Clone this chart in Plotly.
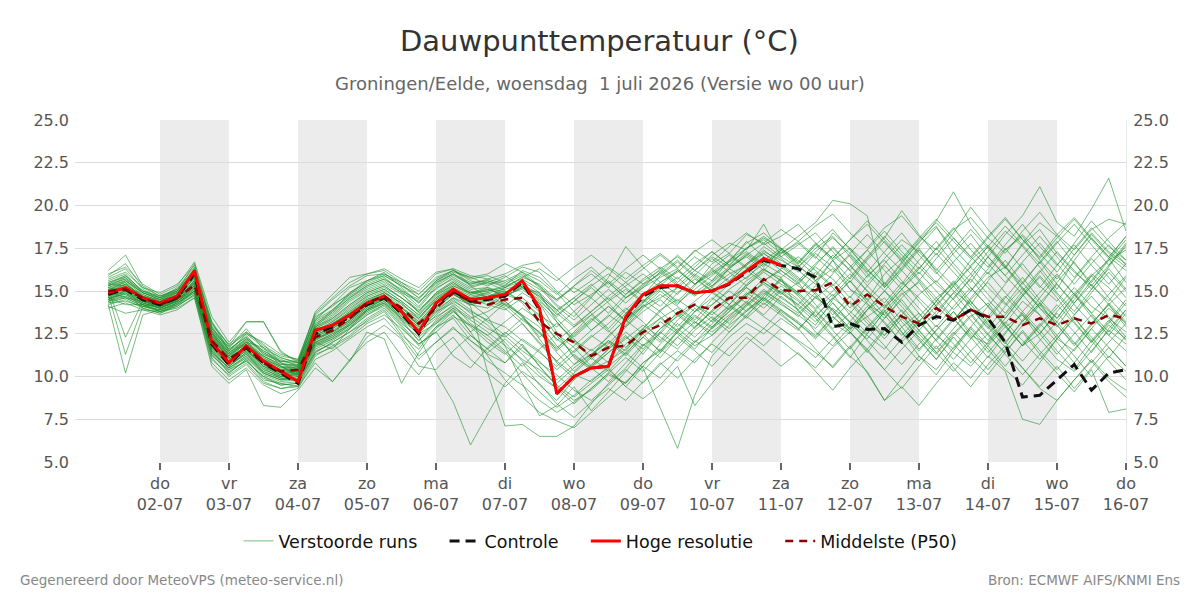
import plotly.graph_objects as go
import pandas as pd

# ---------------- data ----------------
start_time = "2026-07-01 06:00"
n_steps = 60  # 6-hourly steps

tick_dates = ["2026-07-02", "2026-07-03", "2026-07-04", "2026-07-05", "2026-07-06",
              "2026-07-07", "2026-07-08", "2026-07-09", "2026-07-10", "2026-07-11",
              "2026-07-12", "2026-07-13", "2026-07-14", "2026-07-15", "2026-07-16"]
tick_days = ["do", "vr", "za", "zo", "ma", "di", "wo", "do", "vr", "za", "zo", "ma", "di", "wo", "do"]
tick_labels = ["02-07", "03-07", "04-07", "05-07", "06-07", "07-07", "08-07", "09-07",
               "10-07", "11-07", "12-07", "13-07", "14-07", "15-07", "16-07"]
shaded_days = [("2026-07-02", "2026-07-03"), ("2026-07-04", "2026-07-05"), ("2026-07-06", "2026-07-07"),
               ("2026-07-08", "2026-07-09"), ("2026-07-10", "2026-07-11"), ("2026-07-12", "2026-07-13"),
               ("2026-07-14", "2026-07-15")]
y_ticks = [5.0, 7.5, 10.0, 12.5, 15.0, 17.5, 20.0, 22.5, 25.0]

hires = [14.9, 15.2, 14.6, 14.3, 14.7, 16.2, 12.0, 10.8, 11.8, 10.9, 10.3, 9.7, 12.7, 13.0, 13.6, 14.3,
         14.7, 13.8, 12.6, 14.3, 15.1, 14.5, 14.6, 14.8, 15.6, 14.0, 9.0, 10.0, 10.5, 10.6, 13.5, 14.8,
         15.3, 15.3, 14.9, 15.0, 15.45, 16.2, 16.9, 16.5]

control = [14.8, 15.1, 14.5, 14.2, 14.6, 16.0, 11.9, 10.7, 11.7, 10.8, 10.2, 9.6, 12.5, 12.9, 13.5, 14.2,
           14.6, 13.7, 12.5, 14.2, 15.0, 14.4, 14.5, 14.7, 15.5, 13.9, 9.0, 10.0, 10.5, 10.6, 13.4, 14.7,
           15.2, 15.3, 14.9, 15.0, 15.4, 16.1, 16.8, 16.5, 16.3, 15.8, 12.9, 13.1, 12.75, 12.8, 12.0, 13.0,
           13.5, 13.3, 13.9, 13.4, 12.0, 8.8, 8.9, 9.8, 10.7, 9.2, 10.2, 10.4]

p50 = [15.0, 15.1, 14.6, 14.2, 14.6, 15.35, 12.1, 11.0, 11.7, 10.8, 10.3, 10.4, 12.3, 12.7, 13.4, 14.3,
       14.7, 14.0, 13.1, 14.0, 14.9, 14.4, 14.2, 14.5, 14.6, 13.2, 12.5, 12.0, 11.2, 11.7, 11.8, 12.6,
       13.0, 13.7, 14.2, 13.9, 14.6, 14.6, 15.7, 15.05, 15.0, 15.05, 15.5, 14.1, 14.8, 14.1, 13.5, 13.1,
       14.0, 13.3, 13.9, 13.5, 13.5, 13.0, 13.4, 13.0, 13.4, 13.1, 13.6, 13.4]

run01 = [15.5,15.8,14.8,14.4,14.9,15.9,12.6,11.2,12.1,11.0,10.6,10.2,12.8,13.3,14.1,14.8,15.2, 14.6,13.9,14.8,15.3,14.8,15.0,15.2,15.6,14.9,13.2,12.1,11.5,12.3,13.4,14.1,14.6,15.2,14.8,15.3,16.0,16.5,17.3,16.8, 16.2,15.4,16.8,15.1,14.2,13.6,14.8,15.5,14.1,13.2,14.6,15.8,16.4,15.1,14.0,13.2,14.5,15.9,16.8,17.4]
run02 = [14.6,15.0,14.3,14.0,14.4,15.1,11.8,10.6,11.4,10.2,9.8,10.0,12.0,12.5,13.0,13.9,14.4, 13.5,12.8,13.9,14.6,14.2,14.0,14.8,15.1,14.3,12.6,11.1,10.4,10.9,11.6,12.8,13.9,14.5,13.8,14.2,15.1,15.8,16.6,16.0, 15.3,14.6,13.9,12.8,13.5,14.2,12.9,11.6,12.7,13.8,12.4,11.9,13.1,14.4,13.6,12.2,11.5,12.8,14.0,13.1]
run03 = [16.2,17.1,15.3,14.7,15.0,16.6,13.2,11.5,12.4,11.3,10.9,10.7,13.4,14.2,14.8,15.6,16.1, 15.2,14.3,15.5,16.0,15.4,15.6,15.3,16.2,15.8,14.9,13.8,12.7,13.5,14.6,15.2,15.8,16.3,15.4,16.1,16.8,17.5,18.0,17.2, 17.8,16.9,18.4,17.5,16.2,15.3,16.6,17.9,18.8,17.1,16.0,17.3,18.5,17.6,16.4,15.1,16.8,18.1,17.0,16.2]
run04 = [14.2,10.2,13.6,13.9,14.3,14.9,11.5,10.2,11.0,9.9,9.5,9.6,11.4,12.0,12.6,13.2,13.8, 12.4,11.6,12.9,13.4,12.1,11.3,10.8,11.9,10.6,9.4,8.6,9.2,10.1,9.6,10.8,11.5,12.6,11.8,12.4,13.3,14.1,14.9,14.2, 13.6,12.8,14.0,13.2,12.4,11.6,12.9,13.7,12.5,11.4,10.6,11.8,12.9,13.6,12.2,11.0,10.3,11.5,12.7,11.9]
run05 = [14.8,11.3,14.1,14.3,14.6,15.5,12.3,11.1,11.8,11.2,10.6,10.1,12.6,13.1,13.7,14.4,14.9, 14.1,13.2,14.3,15.0,14.6,14.9,14.4,13.5,12.2,10.8,9.9,10.6,11.4,12.3,11.6,12.8,13.5,14.2,13.6,14.5,15.3,16.1,15.4, 14.8,15.6,16.3,15.1,14.5,16.0,16.9,15.7,14.6,15.4,16.8,17.7,16.5,15.2,14.1,15.5,16.7,15.3,14.4,15.8]
run06 = [15.1,12.3,14.4,14.1,14.8,15.7,12.9,11.7,12.8,11.6,11.1,10.8,13.0,13.6,14.5,15.1,15.5, 14.9,14.4,15.1,15.8,15.2,15.5,15.0,14.3,13.1,11.8,10.7,11.3,12.1,11.5,12.7,13.4,14.0,13.2,12.6,13.4,14.2,15.0,14.4, 13.7,14.6,15.4,14.3,13.1,12.4,13.6,14.8,15.6,14.5,13.3,12.1,13.4,14.7,15.8,14.6,13.2,12.0,13.1,14.3]
run07 = [14.9,15.4,14.7,14.3,14.5,15.2,11.9,10.9,11.5,10.7,10.1,10.3,12.2,12.6,13.3,14.1,14.6, 13.6,12.4,10.2,8.5,6.0,7.8,9.6,10.8,9.5,8.6,9.8,10.7,11.6,12.4,11.3,12.6,13.8,13.1,14.2,15.0,14.3,15.6,16.2, 15.5,14.2,13.1,12.5,13.9,14.6,13.2,12.1,11.0,12.4,13.5,14.3,13.0,11.8,12.9,14.0,15.2,14.1,13.4,12.6]
run08 = [15.3,15.6,14.9,14.5,14.7,15.8,12.4,11.3,11.9,11.1,10.5,10.6,12.5,13.0,13.8,14.6,15.0, 14.2,13.5,14.4,14.9,14.1,10.2,7.1,7.2,6.5,6.5,7.1,8.4,9.6,10.5,11.8,12.5,13.6,12.8,13.9,14.6,15.2,14.5,15.8, 13.8,13.0,14.5,15.6,14.3,13.1,12.0,13.2,14.4,15.5,14.2,13.0,11.9,13.3,14.6,15.9,14.8,13.5,12.4,13.7]
run09 = [14.5,14.7,14.2,13.8,14.1,14.8,11.2,10.4,10.9,10.0,9.6,9.7,11.6,12.1,12.8,13.6,14.1, 13.0,11.9,12.6,13.5,13.0,12.2,11.4,10.2,9.1,8.2,8.9,9.8,10.5,9.4,10.6,11.9,12.8,12.0,13.1,14.0,14.7,15.5,14.9, 14.2,13.4,12.3,11.1,12.5,13.8,12.6,11.2,10.1,11.5,12.8,11.6,10.4,9.5,10.8,12.2,13.5,12.1,10.9,9.8]
run10 = [15.8,16.3,15.1,14.6,15.2,16.4,13.0,11.9,12.6,11.8,11.2,11.0,13.6,14.5,15.3,15.9,16.0, 15.5,14.8,15.7,16.2,15.6,15.3,15.8,16.4,16.1,15.0,14.2,14.8,15.5,14.6,15.4,16.0,16.8,15.9,15.2,16.3,17.1,17.8,17.0, 16.4,17.5,18.2,17.0,15.8,16.9,18.0,17.3,16.2,17.4,18.6,17.5,16.3,17.8,19.0,18.2,17.1,18.4,17.3,16.6]
run11 = [14.7,15.2,14.5,14.1,14.6,15.4,12.2,11.0,11.8,10.9,10.4,10.5,12.4,12.9,13.5,14.3,14.8, 14.0,13.4,14.6,15.2,14.7,14.9,15.1,15.4,14.6,13.7,12.9,13.6,14.4,15.1,14.3,15.5,16.2,15.4,16.0,16.7,17.3,16.6,17.4, 18.2,19.0,20.3,20.1,19.4,15.2,16.3,17.5,16.1,15.0,14.2,15.6,16.8,15.5,14.3,13.4,14.8,16.0,15.2,14.1]
run12 = [15.2,15.5,14.6,14.3,14.8,15.9,12.7,11.4,12.2,11.4,10.8,10.4,12.9,13.4,14.2,14.9,15.3, 14.6,13.8,14.9,15.6,15.0,14.6,14.2,13.6,12.9,11.5,12.4,13.3,14.1,13.2,14.3,15.1,15.8,14.9,15.6,16.4,17.0,16.2,15.8, 16.5,15.6,16.8,17.5,16.6,15.4,16.7,17.8,19.1,20.8,18.9,17.6,16.4,17.7,18.6,17.2,16.1,15.3,16.5,17.6]
run13 = [14.4,14.9,14.0,13.7,14.2,15.0,11.4,10.5,11.2,10.3,9.9,9.9,11.9,12.3,13.0,13.8,14.3, 13.3,12.5,13.6,14.4,13.8,13.3,12.9,12.1,11.4,10.6,11.5,12.4,11.7,12.9,13.8,14.5,13.6,14.4,15.2,14.5,15.6,16.3,15.6, 14.9,16.1,15.2,14.0,15.3,16.5,15.4,16.8,17.9,16.6,15.5,17.0,18.3,19.4,21.1,19.0,18.2,19.8,21.6,18.5]
run14 = [14.3,14.6,14.1,13.9,14.2,14.7,11.0,10.1,10.8,9.7,9.3,9.4,11.2,11.8,12.4,13.3,13.9, 12.6,11.2,12.0,12.9,11.8,10.9,10.2,9.5,8.6,7.9,8.5,9.3,10.2,9.6,10.8,11.6,10.9,12.0,12.8,13.6,14.3,13.5,12.8, 12.1,11.4,10.6,11.8,10.2,8.6,9.4,8.3,9.6,10.8,9.9,11.2,10.3,7.5,7.2,8.6,9.8,10.9,9.7,8.8]
run15 = [15.0,15.3,14.5,14.2,14.5,15.3,12.0,10.8,11.6,10.6,10.0,10.2,12.1,12.8,13.6,14.4,14.8, 13.9,13.0,14.2,15.1,14.5,14.2,13.9,14.6,13.8,12.4,11.2,10.5,11.4,12.2,13.0,12.3,11.6,12.7,13.5,12.8,13.9,14.6,13.8, 13.1,12.3,13.5,12.6,11.4,12.7,13.6,12.2,11.0,12.3,11.1,10.1,11.4,12.6,11.3,10.2,9.1,10.4,7.9,8.1]
run16 = [14.8,15.0,14.4,14.0,14.4,15.2,11.7,10.7,11.3,10.4,10.0,10.1,12.0,12.4,13.1,13.9,14.3, 13.4,12.7,13.8,14.3,13.5,12.8,12.3,13.1,12.0,10.9,10.1,9.7,10.6,11.4,10.5,8.2,5.8,8.9,11.2,12.3,13.1,12.5,13.4, 12.7,13.9,14.8,13.6,12.5,13.8,14.9,13.7,12.4,11.6,12.9,14.1,13.0,11.8,12.5,13.7,12.6,11.4,12.8,13.9]
run17 = [15.4,15.9,15.0,14.6,15.1,16.0,12.8,11.6,12.3,11.5,10.9,10.9,13.2,13.8,14.6,15.3,15.7, 15.0,14.1,15.3,15.9,15.4,15.7,15.4,15.9,15.3,14.2,13.5,14.6,15.8,17.6,16.4,15.5,16.1,17.0,16.3,15.6,16.5,17.6,16.9, 16.1,17.2,16.4,15.5,16.8,17.9,16.7,15.6,16.9,18.1,17.0,16.0,17.4,18.2,16.8,15.7,17.1,18.3,17.2,16.4]
run18 = [15.6,16.0,14.9,14.5,15.0,16.1,12.5,11.4,12.0,11.2,10.7,10.7,12.9,13.5,14.4,15.0,15.4, 14.8,14.0,15.2,15.7,15.1,15.2,14.6,15.3,14.7,13.6,14.4,15.2,14.3,13.2,14.1,15.0,14.2,15.3,16.6,17.2,16.4,15.6,16.3, 17.0,16.2,15.3,16.4,17.4,16.2,15.1,16.3,17.5,16.4,15.2,14.1,15.4,16.6,15.3,14.4,15.7,16.9,15.8,14.6]
run19 = [14.6,14.8,14.2,13.9,14.3,15.0,11.6,10.4,11.1,10.1,9.7,9.8,11.8,12.2,12.9,13.7,14.2, 13.2,12.1,13.3,14.0,13.3,12.6,11.8,11.0,10.4,9.6,10.5,11.3,12.0,11.2,12.3,13.2,12.5,11.6,12.9,13.8,14.8,15.4,14.6, 13.9,12.6,11.8,12.9,14.1,13.2,12.0,10.9,12.2,13.4,12.3,11.1,12.5,13.8,12.7,11.5,10.4,11.8,13.0,12.2]
run20 = [15.3,15.7,14.7,14.4,14.9,15.8,12.4,11.2,12.0,11.0,10.5,10.5,12.7,13.2,13.9,14.7,15.1, 14.4,13.6,14.7,15.4,14.9,15.0,15.3,15.7,15.1,14.5,15.2,14.6,13.7,14.8,15.6,16.2,15.4,14.7,15.5,16.3,15.7,16.8,17.5, 16.8,15.9,17.1,16.2,15.0,14.1,15.3,16.4,15.4,14.5,15.8,17.0,15.9,14.8,16.1,17.3,16.2,15.1,16.4,17.7]
run21 = [14.9,15.1,14.4,14.2,14.6,15.5,12.2,11.1,11.7,10.9,10.3,10.4,12.3,12.8,13.4,14.2,14.6, 13.8,13.1,14.1,14.8,14.2,14.4,14.0,13.1,11.9,10.9,11.8,12.7,13.6,12.9,14.0,14.8,14.1,13.3,14.5,15.4,16.2,15.5,14.8, 15.5,16.4,15.7,14.6,15.9,16.8,15.6,14.4,13.3,14.6,15.7,14.5,13.4,14.7,15.9,14.8,13.6,14.9,16.1,15.0]
run22 = [15.1,15.4,14.6,14.2,14.7,15.6,12.3,11.0,11.6,10.8,10.2,10.3,12.5,13.0,13.7,14.5,14.9, 14.3,13.3,14.5,15.2,14.3,13.5,11.8,9.6,7.7,8.3,9.4,8.0,9.1,10.3,11.5,12.6,11.8,12.9,13.8,13.1,14.2,15.1,14.3, 13.5,14.7,13.8,12.7,13.9,15.0,14.1,12.9,14.2,15.3,14.0,12.8,14.1,15.2,14.0,12.9,14.3,15.4,14.2,13.1]
run23 = [14.7,14.9,14.3,14.0,14.5,15.3,11.9,10.8,11.5,10.5,10.1,10.1,12.1,12.6,13.2,14.0,14.5, 13.7,12.9,13.5,14.1,13.4,13.8,14.4,13.6,12.3,13.1,12.2,11.0,11.9,13.0,14.2,13.5,12.6,13.8,14.9,14.2,13.5,14.7,15.6, 14.8,13.9,12.8,13.7,14.8,13.6,12.4,13.5,14.6,13.4,12.2,13.5,14.7,13.6,12.5,13.8,14.9,13.7,12.6,13.9]
run24 = [14.4,14.7,14.2,13.8,14.2,14.9,11.3,10.3,10.9,10.0,9.5,9.6,11.5,11.9,10.9,12.6,12.2, 9.6,11.4,12.8,13.6,12.4,11.6,12.5,13.4,12.6,11.4,10.3,11.2,12.1,11.3,12.5,13.4,12.7,13.8,14.6,13.9,14.8,15.7,14.9, 14.1,13.2,14.3,13.1,12.2,13.4,14.5,13.2,12.1,13.3,14.4,13.1,12.0,13.2,14.3,13.0,11.9,13.1,14.2,12.9]
run25 = [15.9,16.6,15.2,14.7,15.1,16.3,13.1,11.8,12.5,11.7,11.1,10.8,13.5,14.1,14.9,15.5,15.9, 15.3,14.6,15.6,16.1,15.8,15.4,15.6,16.1,15.6,14.8,15.7,16.4,15.5,14.6,15.3,16.1,17.1,16.2,15.6,16.8,17.8,18.4,17.5, 16.6,17.7,16.8,15.7,16.9,18.1,19.7,18.3,17.1,18.4,19.9,18.6,17.4,18.3,17.2,16.1,17.5,18.7,17.6,16.8]
run26 = [14.5,15.0,14.2,14.0,14.4,15.1,11.6,10.6,11.3,10.3,9.9,10.0,11.9,12.4,13.1,13.9,14.4, 13.5,12.6,13.4,14.2,13.1,12.4,13.2,14.0,13.3,12.2,11.4,12.3,13.1,14.0,13.2,12.1,13.3,14.2,13.4,12.6,13.6,14.5,13.7, 12.8,11.6,10.5,11.7,12.9,11.8,10.7,11.9,13.0,11.9,10.8,12.0,13.2,12.1,11.0,12.2,13.4,12.3,11.1,12.4]
run27 = [15.4,15.3,14.8,14.4,14.8,15.7,12.6,11.5,12.2,11.3,10.8,10.6,13.1,13.7,14.6,15.2,15.6, 14.9,13.7,14.8,15.5,14.8,15.1,14.7,15.2,14.9,13.9,14.6,15.4,14.5,15.3,16.0,15.2,14.3,15.1,15.9,16.7,17.9,17.0,16.2, 15.4,16.5,17.6,16.5,15.3,14.3,15.5,14.6,13.6,14.9,16.0,14.8,13.7,15.0,16.2,14.9,13.8,15.1,16.3,15.1]
run28 = [14.2,14.5,14.0,13.7,14.1,14.8,11.1,10.0,10.7,9.6,9.3,9.5,11.3,11.7,12.3,13.1,13.6, 12.8,11.9,12.6,11.2,10.5,11.7,12.6,11.8,10.6,9.5,8.8,9.6,10.4,9.4,8.7,9.5,10.6,8.3,9.6,10.8,11.9,12.8,12.1, 11.3,10.5,11.7,12.6,11.5,10.4,11.6,12.7,11.4,10.3,11.5,12.5,11.3,10.1,11.3,12.4,11.2,10.0,11.2,10.3]
run29 = [15.0,15.2,14.5,14.1,14.5,15.4,12.1,11.0,11.7,10.9,10.3,10.3,12.3,12.8,13.5,14.2,14.6, 13.9,13.0,14.0,14.8,14.3,14.7,14.9,15.3,14.7,13.9,13.0,13.8,14.7,15.5,14.7,15.9,16.7,15.8,15.0,15.8,16.6,17.4,16.6, 15.8,14.9,16.0,17.1,16.0,15.0,16.2,15.1,14.1,15.3,16.4,15.2,14.2,15.5,16.7,15.4,14.3,15.6,16.9,15.5]
run30 = [14.8,15.1,14.4,14.1,14.6,15.5,12.0,10.9,11.6,10.6,10.2,10.2,12.2,12.7,13.3,14.1,14.6, 13.8,13.0,13.8,14.6,13.9,13.2,12.4,11.5,10.8,10.1,9.2,8.6,9.5,10.4,9.6,10.7,11.5,10.8,12.0,13.0,13.8,14.6,13.9, 13.1,12.2,13.3,14.4,13.3,12.2,13.4,12.3,11.3,12.5,13.6,12.4,11.4,12.7,11.5,10.4,11.6,12.8,11.7,10.6]
run31 = [15.2,15.6,14.7,14.3,14.8,15.8,12.5,11.3,12.0,11.1,10.6,10.5,12.6,13.2,14.0,14.7,15.1, 14.4,13.6,14.6,15.3,14.9,15.1,14.8,14.4,13.5,12.1,12.9,13.8,14.6,13.7,14.8,15.5,14.8,15.9,16.9,16.1,15.3,16.2,17.2, 17.9,17.0,16.1,17.2,18.3,17.2,16.2,17.4,16.3,15.3,16.5,17.6,16.4,15.4,16.7,17.9,16.6,15.5,16.8,18.0]
run32 = [14.6,14.8,14.3,14.0,14.4,15.2,11.8,10.7,11.4,10.4,10.0,10.1,12.0,12.5,13.2,14.0,14.5, 13.6,12.9,14.0,14.8,14.2,14.5,14.1,14.9,14.3,13.2,12.0,11.2,12.4,13.3,12.5,11.4,12.6,13.5,12.8,14.0,14.9,14.2,15.1, 14.4,13.5,14.6,13.8,12.9,14.0,15.1,14.0,12.9,14.1,15.2,14.1,12.9,11.8,13.0,14.2,13.1,12.0,13.2,14.5]
run33 = [15.1,15.5,14.6,14.3,14.7,15.6,12.3,11.2,11.9,11.0,10.4,10.4,12.5,13.1,13.8,14.5,14.9, 14.3,13.4,14.5,15.1,14.6,14.8,14.2,13.3,12.6,11.7,12.5,13.4,12.6,13.7,14.5,13.8,14.9,15.7,15.0,14.2,15.4,16.3,15.6, 14.7,13.6,12.4,11.2,10.3,8.6,9.9,11.2,10.4,11.7,12.9,11.8,10.6,11.9,13.1,12.0,10.8,12.1,13.3,12.1]
run34 = [14.9,15.2,14.5,14.2,14.6,15.4,12.0,10.9,11.6,10.7,10.2,10.3,12.4,12.9,13.6,14.3,14.7, 14.0,13.2,14.3,15.0,14.5,14.7,15.0,14.4,13.6,12.9,13.8,14.7,15.6,14.8,15.7,16.4,15.7,16.6,17.3,16.5,17.5,18.2,17.4, 16.5,15.6,14.7,15.8,17.0,18.2,17.1,16.0,17.2,16.1,15.0,16.3,17.5,16.3,15.2,16.5,17.7,16.5,15.4,16.6]
run35 = [14.3,14.4,14.1,13.8,14.3,15.0,11.4,10.5,11.1,10.2,9.8,9.8,11.7,12.2,12.8,13.6,14.2, 13.1,12.3,13.2,13.9,12.6,11.2,9.8,8.8,7.9,7.4,7.0,7.9,8.8,9.7,10.6,9.9,11.1,12.1,11.4,12.6,13.5,12.8,13.9, 13.2,12.4,13.5,12.6,11.6,12.8,13.9,12.7,11.6,12.8,14.0,12.9,11.7,13.0,14.2,13.0,11.8,13.0,14.3,13.2]
run36 = [15.5,15.9,15.0,14.6,15.0,16.0,12.7,11.6,12.3,11.4,10.9,10.8,13.3,13.9,14.7,15.3,15.7, 15.1,14.3,15.4,16.0,15.5,15.6,15.2,15.8,15.4,14.5,15.3,16.0,15.2,16.1,15.4,16.3,17.0,16.2,17.1,17.8,17.4,18.9,17.0, 17.7,18.4,17.3,16.2,17.4,18.5,17.3,16.3,17.5,18.7,17.4,16.4,17.7,18.9,17.6,16.5,17.8,19.1,17.9,16.8]
run37 = [14.7,15.0,14.4,14.1,14.5,15.3,11.9,10.8,11.5,10.6,10.1,10.2,12.2,12.6,13.3,14.1,14.5, 13.7,12.7,13.7,14.5,13.7,13.0,12.0,10.9,10.0,9.3,10.2,11.1,10.3,11.4,12.3,11.5,12.7,13.6,12.9,13.8,14.7,14.0,15.0, 14.2,15.3,14.3,13.2,14.4,15.5,14.3,13.2,14.4,15.6,14.4,13.3,14.6,15.8,14.5,13.4,14.7,15.9,14.6,13.5]
run38 = [15.0,15.4,14.6,14.2,14.6,15.5,12.2,11.1,11.8,10.8,10.3,10.4,12.4,12.9,13.6,14.3,14.7, 14.0,13.1,14.2,14.9,14.3,14.5,14.7,15.2,14.5,13.4,12.3,13.2,14.1,13.3,14.4,15.2,14.4,15.4,16.2,15.5,16.6,17.2,16.5, 15.7,14.8,13.6,14.7,13.5,12.4,13.6,12.5,11.4,12.6,11.5,10.4,11.6,10.5,9.4,10.6,9.3,10.5,11.7,10.6]
run39 = [15.3,15.8,14.9,14.5,14.9,15.9,12.6,11.4,12.1,11.2,10.7,10.6,12.8,13.4,14.2,14.9,15.3, 14.6,13.8,14.9,15.5,14.9,15.2,14.9,15.4,14.8,13.8,14.6,13.7,12.8,13.9,14.8,14.1,15.2,16.0,15.3,16.3,17.1,16.4,17.4, 16.6,17.7,18.6,17.4,16.3,15.2,16.4,17.6,18.7,17.5,16.4,17.6,18.8,17.7,16.6,17.8,18.9,17.7,16.5,17.8]
run40 = [14.4,14.6,14.1,13.9,14.3,15.0,11.5,10.5,11.2,10.2,9.8,9.9,11.8,12.3,13.0,13.8,14.3, 13.4,12.5,13.1,13.8,12.9,12.0,11.3,12.2,11.5,10.4,11.3,10.5,9.7,10.8,11.9,11.1,12.3,13.2,12.4,13.5,14.4,13.6,14.7, 13.9,14.9,13.9,12.8,13.9,15.0,13.8,12.7,13.8,14.9,13.7,12.5,13.6,14.8,13.6,12.4,13.6,14.7,13.5,12.3]
run41 = [16.0,16.4,15.4,14.8,15.3,16.7,13.5,12.0,13.2,13.2,11.5,10.8,13.8,14.8,15.8,16.0,16.2, 15.5,15.0,16.0,16.3,15.9,15.7,16.0,16.5,16.7,15.8,14.9,15.6,16.4,15.7,16.5,17.2,16.4,17.3,18.0,17.2,18.3,17.8,18.6, 17.9,18.8,19.5,18.4,17.5,18.7,19.4,18.2,17.4,18.6,19.3,18.1,17.2,18.5,19.6,18.3,17.4,18.6,19.2,18.9]
run42 = [14.0,14.3,13.9,13.6,13.9,14.6,10.6,9.6,10.4,8.3,8.2,9.2,10.5,9.7,11.0,12.0,12.6, 11.2,10.1,11.5,12.3,11.0,10.2,9.4,10.3,9.6,8.4,7.6,8.5,9.3,8.6,9.7,10.8,9.9,11.0,11.9,11.2,12.3,11.5,10.6, 11.4,10.3,9.2,10.5,11.6,10.4,9.3,10.6,11.8,10.5,9.4,10.7,11.8,10.5,9.3,8.6,9.8,11.0,9.9,9.2]
run43 = [15.2,15.0,14.7,14.5,15.0,16.0,13.2,11.8,13.2,13.2,11.4,10.9,13.3,14.2,15.2,15.6,15.9, 15.3,14.8,15.8,16.2,15.7,15.9,15.5,16.0,15.2,14.1,13.3,14.2,15.1,14.3,15.2,16.1,15.3,16.2,17.0,16.4,17.2,16.5,17.3, 16.4,17.3,18.1,17.2,16.1,17.3,18.4,17.1,16.0,17.2,18.3,17.0,15.9,17.1,18.2,17.0,15.8,17.0,18.1,19.0]
run44 = [14.6,14.2,14.2,14.1,14.4,15.0,11.3,10.2,11.0,9.8,9.6,9.4,10.8,9.7,10.9,12.3,13.0, 12.2,10.6,10.4,11.5,12.4,11.6,10.8,11.7,10.9,9.8,10.7,11.6,10.8,11.9,12.8,12.0,13.1,12.3,13.3,14.1,13.4,14.3,13.6, 12.8,13.8,12.7,11.6,12.8,13.9,12.6,11.5,12.7,13.8,12.6,11.4,12.6,13.7,12.5,11.3,12.5,13.6,12.4,11.5]
run45 = [15.7,16.1,15.2,14.9,15.4,16.5,12.9,11.5,12.5,12.0,11.3,11.0,13.7,14.6,15.5,16.0,16.3, 15.7,15.2,16.1,16.3,15.3,14.6,15.2,15.8,16.3,15.6,16.4,17.1,16.3,15.5,16.3,17.1,16.3,17.4,16.7,17.6,18.4,17.7,18.2, 18.9,17.8,16.9,18.0,19.1,18.0,16.9,18.1,19.2,18.1,17.0,18.2,19.3,18.0,16.9,18.1,19.2,18.0,16.9,18.2]
run46 = [14.1,13.7,13.9,13.8,14.0,14.6,10.8,9.8,10.5,9.5,9.0,9.3,11.0,11.5,12.2,12.9,13.4, 12.3,11.0,12.0,12.8,12.1,11.4,12.2,11.3,10.2,9.3,8.4,9.3,10.2,11.1,10.3,11.4,12.3,11.5,10.6,11.7,12.6,11.8,12.8, 12.0,11.1,12.2,13.2,12.1,11.0,12.2,13.3,12.1,11.0,12.2,13.3,12.0,10.9,12.1,13.2,12.0,10.8,12.0,13.1]
run47 = [15.0,15.6,14.9,14.6,14.9,16.3,12.8,11.7,12.6,11.9,10.8,10.2,12.9,13.8,14.9,15.6,16.0, 15.4,14.6,15.5,16.0,15.3,15.5,15.9,15.2,14.4,13.5,14.4,15.3,16.0,15.2,14.4,15.3,16.2,15.4,16.3,17.1,16.3,17.2,16.4, 15.6,16.6,17.5,16.5,15.5,16.6,17.7,16.6,15.5,16.7,17.8,16.6,15.5,16.7,17.8,16.6,15.4,16.6,17.7,16.5]
run48 = [14.5,14.9,14.3,14.0,14.4,15.3,11.7,10.6,11.4,10.5,9.9,9.8,11.4,12.0,12.6,13.4,14.0, 12.9,11.8,12.9,13.8,13.0,12.4,11.5,10.6,11.6,12.5,11.7,10.6,11.6,12.6,11.8,12.8,13.7,12.9,13.8,14.6,13.8,14.8,15.7, 14.9,14.0,15.0,16.0,15.0,14.0,15.1,16.1,15.0,13.9,15.0,16.1,14.9,13.8,14.9,16.0,14.8,13.7,14.8,15.9]
run49 = [15.4,15.7,15.0,14.7,15.1,16.2,12.5,11.3,12.2,11.5,11.0,10.6,13.0,13.9,14.8,15.4,15.8, 15.0,14.5,15.6,16.2,15.8,16.0,16.6,16.1,15.3,14.4,15.3,16.2,15.4,16.3,17.1,16.3,15.5,16.4,17.3,16.5,17.5,18.1,17.5, 16.7,17.8,16.9,18.0,18.9,17.8,16.8,18.0,19.0,17.9,16.9,18.1,19.2,18.0,17.0,18.3,19.3,18.1,17.0,18.2]
run50 = [14.9,14.6,14.4,14.1,14.5,15.6,12.4,11.1,12.0,11.7,10.6,10.0,12.0,11.6,12.8,13.9,14.6, 13.3,12.1,13.1,14.0,12.6,13.4,14.3,13.5,12.5,11.6,12.6,13.6,12.7,11.7,12.8,13.8,12.9,14.0,13.2,14.2,15.2,14.4,15.3, 14.5,13.5,14.6,15.6,14.5,13.4,14.6,15.6,14.4,13.3,14.5,15.5,14.3,13.2,14.3,15.4,14.2,13.1,14.2,15.2]

members = [run01, run02, run03, run04, run05, run06, run07, run08, run09, run10,
           run11, run12, run13, run14, run15, run16, run17, run18, run19, run20,
           run21, run22, run23, run24, run25, run26, run27, run28, run29, run30,
           run31, run32, run33, run34, run35, run36, run37, run38, run39, run40,
           run41, run42, run43, run44, run45, run46, run47, run48, run49, run50]

legend_names = ["Verstoorde runs", "Controle", "Hoge resolutie", "Middelste (P50)"]

# ---------------- figure ----------------
times = pd.date_range(start_time, periods=n_steps, freq="6h")
FONT = "DejaVu Sans"
PAD = "\u00a0" * 4

fig = go.Figure()

for i, m in enumerate(members):
    fig.add_trace(go.Scatter(
        x=times[:len(m)], y=m, mode="lines",
        line=dict(color="rgba(30,145,45,0.6)", width=1),
        name=legend_names[0] + PAD, legendgroup="ens", showlegend=(i == 0),
        hoverinfo="skip"))

fig.add_trace(go.Scatter(x=times[:len(control)], y=control, mode="lines",
                         line=dict(color="#111111", width=3, dash="10px,6px"),
                         name=legend_names[1] + PAD))
fig.add_trace(go.Scatter(x=times[:len(hires)], y=hires, mode="lines",
                         line=dict(color="#ff0000", width=3),
                         name=legend_names[2] + PAD))
fig.add_trace(go.Scatter(x=times[:len(p50)], y=p50, mode="lines",
                         line=dict(color="#8b0000", width=2.5, dash="8px,6px"),
                         name=legend_names[3]))
# invisible trace to carry the right-hand axis
fig.add_trace(go.Scatter(x=[times[0]], y=[p50[0]], mode="markers", marker=dict(opacity=0),
                         yaxis="y2", showlegend=False, hoverinfo="skip"))

shapes = []
for a, b in shaded_days:
    shapes.append(dict(type="rect", xref="x", yref="paper", x0=a, x1=b, y0=0, y1=1,
                       fillcolor="#ececec", line=dict(width=0), layer="below"))

ytext = [f"{v:.1f}" for v in y_ticks]
ticktext = [f"{d}<br>{l}" for d, l in zip(tick_days, tick_labels)]

fig.update_layout(
    width=1200, height=600,
    margin=dict(l=75, r=74, t=120, b=138),
    paper_bgcolor="white", plot_bgcolor="white",
    font=dict(family=FONT, color="#555555"),
    shapes=shapes,
    showlegend=True,
    legend=dict(orientation="h", x=0.5, xanchor="center", y=-0.231, yanchor="middle",
                font=dict(size=17.5, color="#111111"), bgcolor="rgba(0,0,0,0)"),
    xaxis=dict(type="date", range=["2026-06-30 18:26", "2026-07-16 00:00"],
               tickmode="array", tickvals=tick_dates, ticktext=ticktext,
               showgrid=False, zeroline=False, showline=False,
               ticks="outside", ticklen=7, tickcolor="#666666", tickwidth=2,
               tickfont=dict(size=16, color="#555555")),
    yaxis=dict(range=[5, 25], tickmode="array", tickvals=y_ticks, ticktext=ytext,
               showgrid=True, gridcolor="#dcdcdc", gridwidth=1, zeroline=False,
               showline=False, ticks="", ticklabelstandoff=5,
               tickfont=dict(size=16, color="#555555")),
    yaxis2=dict(range=[5, 25], overlaying="y", side="right", tickmode="array",
                tickvals=y_ticks, ticktext=ytext, showgrid=False, zeroline=False,
                showline=True, linecolor="#e6e6e6", ticks="", ticklabelstandoff=3,
                tickfont=dict(size=16, color="#555555")),
    annotations=[
        dict(text="Dauwpunttemperatuur (°C)", xref="paper", yref="paper", x=0.4995, y=1.231,
             xanchor="center", yanchor="middle", showarrow=False,
             font=dict(size=29, color="#333333")),
        dict(text="Groningen/Eelde, woensdag  1 juli 2026 (Versie wo 00 uur)", xref="paper",
             yref="paper", x=0.4995, y=1.108, xanchor="center", yanchor="middle",
             showarrow=False, font=dict(size=18, color="#666666")),
        dict(text="Gegenereerd door MeteoVPS (meteo-service.nl)", xref="paper", yref="paper",
             x=-0.0542, y=-0.345, xanchor="left", yanchor="middle", showarrow=False,
             font=dict(size=13.5, color="#888888")),
        dict(text="Bron: ECMWF AIFS/KNMI Ens", xref="paper", yref="paper",
             x=1.0533, y=-0.345, xanchor="right", yanchor="middle", showarrow=False,
             font=dict(size=13.5, color="#888888")),
    ],
)

fig.write_html("out.html")
